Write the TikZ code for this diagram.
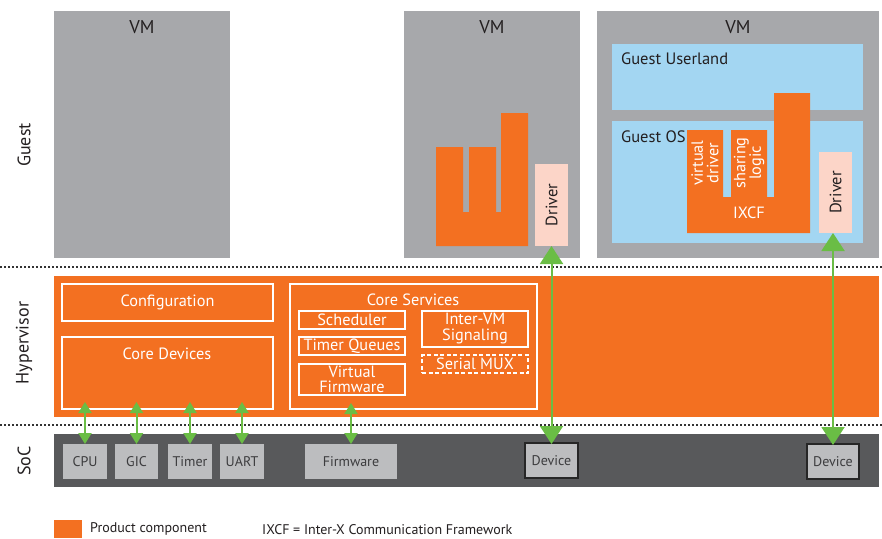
\documentclass[tikz,border=0pt]{standalone}
\usepackage{fontspec}
\setmainfont{PT Sans}
\usetikzlibrary{arrows.meta}
\definecolor{vmgray}{HTML}{A7A8AB}
\definecolor{lblue}{HTML}{A3D6F2}
\definecolor{orng}{HTML}{F37021}
\definecolor{pinkd}{HTML}{FCD5C8}
\definecolor{socdark}{HTML}{58595B}
\definecolor{chip}{HTML}{BCBDBF}
\definecolor{grn}{HTML}{6ABD45}
\definecolor{txtd}{HTML}{231F20}
\definecolor{txtc}{HTML}{3C3C3E}
\tikzset{
  rbox/.style={anchor=north west, inner sep=0pt, outer sep=0pt},
  vmbox/.style={rbox, fill=vmgray},
  bluebox/.style={rbox, fill=lblue},
  wbox/.style={rbox, draw=white, line width=1.6pt},
  chipbox/.style={rbox, fill=chip, text=txtc, font=\fontsize{14}{15}\selectfont},
  devbox/.style={chipbox, draw=black!85, line width=1.8pt},
  drvbox/.style={rbox, fill=pinkd},
  wtxt/.style={text=white, font=\fontsize{16.3}{16}\selectfont, inner sep=0pt},
  dtxt/.style={text=txtd, font=\fontsize{16.5}{16}\selectfont, inner sep=0pt},
  vmtxt/.style={text=txtd, font=\fontsize{18.5}{18}\selectfont, inner sep=0pt},
  sidel/.style={text=txtd, rotate=90, font=\fontsize{18}{20}\selectfont},
  sep/.style={draw=black!80, line width=2pt, dash pattern=on 2pt off 2pt},
  sar/.style={draw=grn, line width=2pt, {Triangle[width=13pt,length=11pt]}-{Triangle[width=13pt,length=11pt]}},
  bar/.style={draw=grn, line width=2pt, {Triangle[width=23pt,length=18pt]}-{Triangle[width=23pt,length=18pt]}},
}
\begin{document}
\begin{tikzpicture}[x=1pt,y=-1pt]
\useasboundingbox (0,0) rectangle (882,538);
% VMs
\node[vmbox, minimum width=176, minimum height=247] (vm1) at (54,11) {};
\node[vmbox, minimum width=176, minimum height=247] (vm2) at (404,11) {};
\node[vmbox, minimum width=282, minimum height=247] (vm3) at (597,11) {};
\node[vmtxt] at (142,27) {VM};
\node[vmtxt] at (492,27) {VM};
\node[vmtxt] at (738,27) {VM};
% VM3 internals
\node[bluebox, minimum width=251, minimum height=66] (ul) at (612,44) {};
\node[dtxt, anchor=west] at (621,59) {Guest Userland};
\node[bluebox, minimum width=251, minimum height=122] (gos) at (612,121) {};
\node[dtxt, anchor=west] at (621,137) {Guest OS};
\fill[orng] (687,233) -- (687,130) -- (723,130) -- (723,197) -- (731,197) -- (731,130)
  -- (767,130) -- (767,197) -- (774,197) -- (774,93) -- (810,93) -- (810,233) -- cycle;
\node[wtxt, rotate=90, align=center, font=\fontsize{16.3}{15.5}\selectfont] at (705,163) {virtual\\driver};
\node[wtxt, rotate=90, align=center, font=\fontsize{16.3}{15.5}\selectfont] at (749,163) {sharing\\logic};
\node[wtxt] at (749,213) {IXCF};
\node[drvbox, minimum width=33, minimum height=81] (drv3) at (819,152) {};
\node[dtxt, rotate=90] at (drv3.center) {Driver};
% VM2 internals
\fill[orng] (436,246) -- (436,147) -- (463,147) -- (463,212) -- (469,212) -- (469,147)
  -- (496,147) -- (496,212) -- (501,212) -- (501,113) -- (528,113) -- (528,246) -- cycle;
\node[drvbox, minimum width=33, minimum height=82] (drv2) at (535,164) {};
\node[dtxt, rotate=90] at (drv2.center) {Driver};
% separators
\draw[sep] (0,267) -- (882,267);
\draw[sep] (0,425) -- (882,425);
% Hypervisor
\node[rbox, fill=orng, minimum width=825, minimum height=141] (hyp) at (54,276) {};
\node[wbox, minimum width=211, minimum height=37] (conf) at (62,284) {};
\node[wtxt] at (conf.center) {Configuration};
\node[wbox, minimum width=211, minimum height=72] (cdev) at (62,337) {};
\node[wtxt] at (167,354) {Core Devices};
\node[wbox, minimum width=247, minimum height=125] (csrv) at (290,284) {};
\node[wtxt] at (413,300) {Core Services};
\node[wbox, minimum width=106, minimum height=18] (sched) at (299,311) {};
\node[wtxt] at (sched.center) {Scheduler};
\node[wbox, minimum width=106, minimum height=18] (tq) at (299,337) {};
\node[wtxt] at (tq.center) {Timer Queues};
\node[wbox, minimum width=106, minimum height=31] (vfw) at (299,364) {};
\node[wtxt, align=center, font=\fontsize{16.3}{15.5}\selectfont] at (vfw.center) {Virtual\\Firmware};
\node[wbox, minimum width=106, minimum height=36] (ivm) at (422,311) {};
\node[wtxt, align=center, font=\fontsize{16.3}{16}\selectfont] at (ivm.center) {Inter-VM\\Signaling};
\node[wbox, dashed, dash pattern=on 4pt off 2.5pt, minimum width=106, minimum height=18] (smux) at (422,355) {};
\node[wtxt] at (smux.center) {Serial MUX};
% SoC
\node[rbox, fill=socdark, minimum width=825, minimum height=53] (soc) at (54,434) {};
\node[chipbox, minimum width=44, minimum height=35] (cpu) at (63,444) {CPU};
\node[chipbox, minimum width=43, minimum height=35] (gic) at (115,444) {GIC};
\node[chipbox, minimum width=44, minimum height=35] (tmr) at (168,444) {Timer};
\node[chipbox, minimum width=44, minimum height=35] (uart) at (220,444) {UART};
\node[chipbox, minimum width=92, minimum height=35] (fw) at (305,444) {Firmware};
\node[devbox, minimum width=53, minimum height=35] (dev1) at (525,443) {Device};
\node[devbox, minimum width=52, minimum height=35] (dev2) at (807,444) {Device};
% arrows
\draw[sar] ([yshift=7pt]cdev.south -| cpu.north) -- (cpu.north);
\draw[sar] ([yshift=7pt]cdev.south -| gic.north) -- (gic.north);
\draw[sar] ([yshift=7pt]cdev.south -| tmr.north) -- (tmr.north);
\draw[sar] ([yshift=7pt]cdev.south -| uart.north) -- (uart.north);
\draw[sar] ([yshift=-8pt]vfw.south -| fw.north) -- (fw.north);
\draw[bar] (drv2.south -| dev1.north) -- ([yshift=-1pt]dev1.north);
\draw[bar] (drv3.south -| dev2.north) -- ([yshift=-1pt]dev2.north);
% side labels
\node[sidel] at (24,145) {Guest};
\node[sidel] at (24,343) {Hypervisor};
\node[sidel] at (24,461) {SoC};
% legend
\node[rbox, fill=orng, minimum width=28, minimum height=18] (leg) at (54,520) {};
\node[text=txtd, anchor=west, font=\fontsize{14}{15}\selectfont, inner sep=0pt] at (90,529) {Product component};
\node[text=txtd, anchor=west, font=\fontsize{14}{15}\selectfont, inner sep=0pt] at (262,530) {IXCF = Inter-X Communication Framework};
\end{tikzpicture}
\end{document}
